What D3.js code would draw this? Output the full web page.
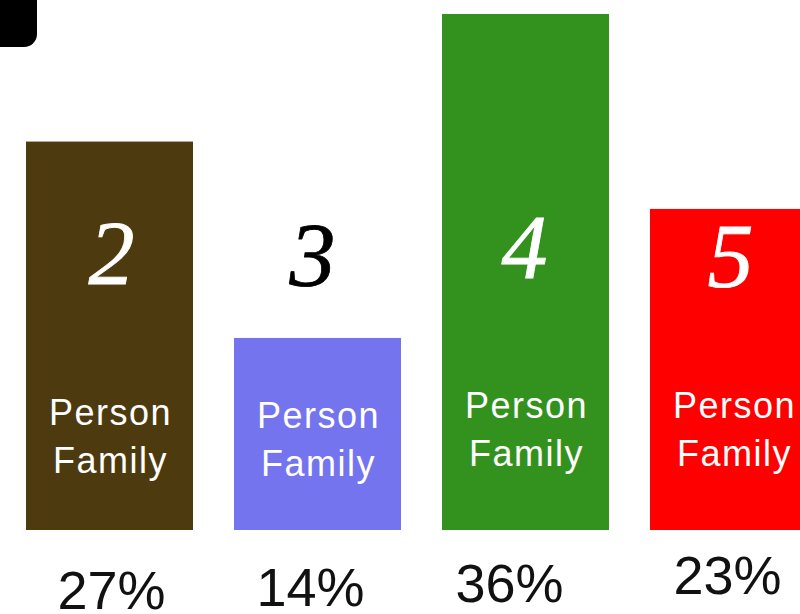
<!DOCTYPE html>
<html>
<head>
<meta charset="utf-8">
<script src="https://cdn.jsdelivr.net/npm/d3@7"></script>
<style>
  body { margin: 0; background: #fff; overflow: hidden; }
  svg { display: block; }
</style>
</head>
<body>
<script>
const width = 800,
    height = 614;

// data
const categories = ['2', '3', '4', '5'];
const barValues = [27.1, 13.4, 36, 22.4];
const percentLabels = ['27%', '14%', '36%', '23%'];
const lineOne = ['Person', 'Person', 'Person', 'Person'];
const lineTwo = ['Family', 'Family', 'Family', 'Family'];
const barColors = ['#4e3a0f', '#7474ee', '#33921e', '#ff0000'];
const digitColors = ['#fff', '#000', '#fff', '#fff'];

// small hand nudges of the original layout (pixels)
const digitBase = [284, 286, 278, 287];
const digitShift = [2, -5, -1, -3];
const textBase = [425, 428, 418, 418];
const pctBase = [609, 606, 602, 594];
const pctShift = [2, -7, -16, -6];

const x = d3.scaleBand()
    .domain(categories)
    .range([26, 817])
    .paddingInner(41 / 208)
    .paddingOuter(0);

const y = d3.scaleLinear()
    .domain([0, 36])
    .range([530, 14]);

const svg = d3.select('body').append('svg')
    .attr('width', width)
    .attr('height', height)
    ;

// black rounded corner at top-left
svg.append('rect')
    .attr('x', -30)
    .attr('y', -30)
    .attr('width', 67)
    .attr('height', 77)
    .attr('rx', 13)
    .attr('fill', '#000')
    ;

const idx = d3.range(categories.length);

svg.append('g').selectAll('rect')
    .data(idx)
    .enter()
    .append('rect')
    .attr('x', i => x(categories[i]))
    .attr('y', i => y(barValues[i]))
    .attr('width', x.bandwidth())
    .attr('height', i => y(0) - y(barValues[i]))
    .attr('fill', i => barColors[i])
    ;

const cx = i => x(categories[i]) + x.bandwidth() / 2;

svg.append('g').selectAll('text')
    .data(idx)
    .enter()
    .append('text')
    .attr('x', i => cx(i) + digitShift[i])
    .attr('y', i => digitBase[i])
    .attr('text-anchor', 'middle')
    .attr('font-family', 'Liberation Serif, serif')
    .attr('font-style', 'italic')
    .attr('font-size', 92)
    .attr('fill', i => digitColors[i])
    .attr('stroke', i => digitColors[i])
    .attr('stroke-width', 0.8)
    .text(i => categories[i])
    ;

const words = svg.append('g')
    .attr('font-family', 'Liberation Sans, Arial, sans-serif')
    .attr('font-size', 36)
    .attr('letter-spacing', 1.5)
    .attr('fill', '#fff')
    .attr('text-anchor', 'middle')
    ;

words.selectAll('text.one')
    .data(idx)
    .enter()
    .append('text')
    .attr('class', 'one')
    .attr('x', i => cx(i) + 1)
    .attr('y', i => textBase[i])
    .text(i => lineOne[i])
    ;

words.selectAll('text.two')
    .data(idx)
    .enter()
    .append('text')
    .attr('class', 'two')
    .attr('x', i => cx(i) + 1)
    .attr('y', i => textBase[i] + 48)
    .text(i => lineTwo[i])
    ;

svg.append('g').selectAll('text')
    .data(idx)
    .enter()
    .append('text')
    .attr('x', i => cx(i) + pctShift[i])
    .attr('y', i => pctBase[i])
    .attr('text-anchor', 'middle')
    .attr('font-family', 'Liberation Sans, Arial, sans-serif')
    .attr('font-size', 54)
    .attr('fill', '#111')
    .text(i => percentLabels[i])
    ;
</script>
</body>
</html>
